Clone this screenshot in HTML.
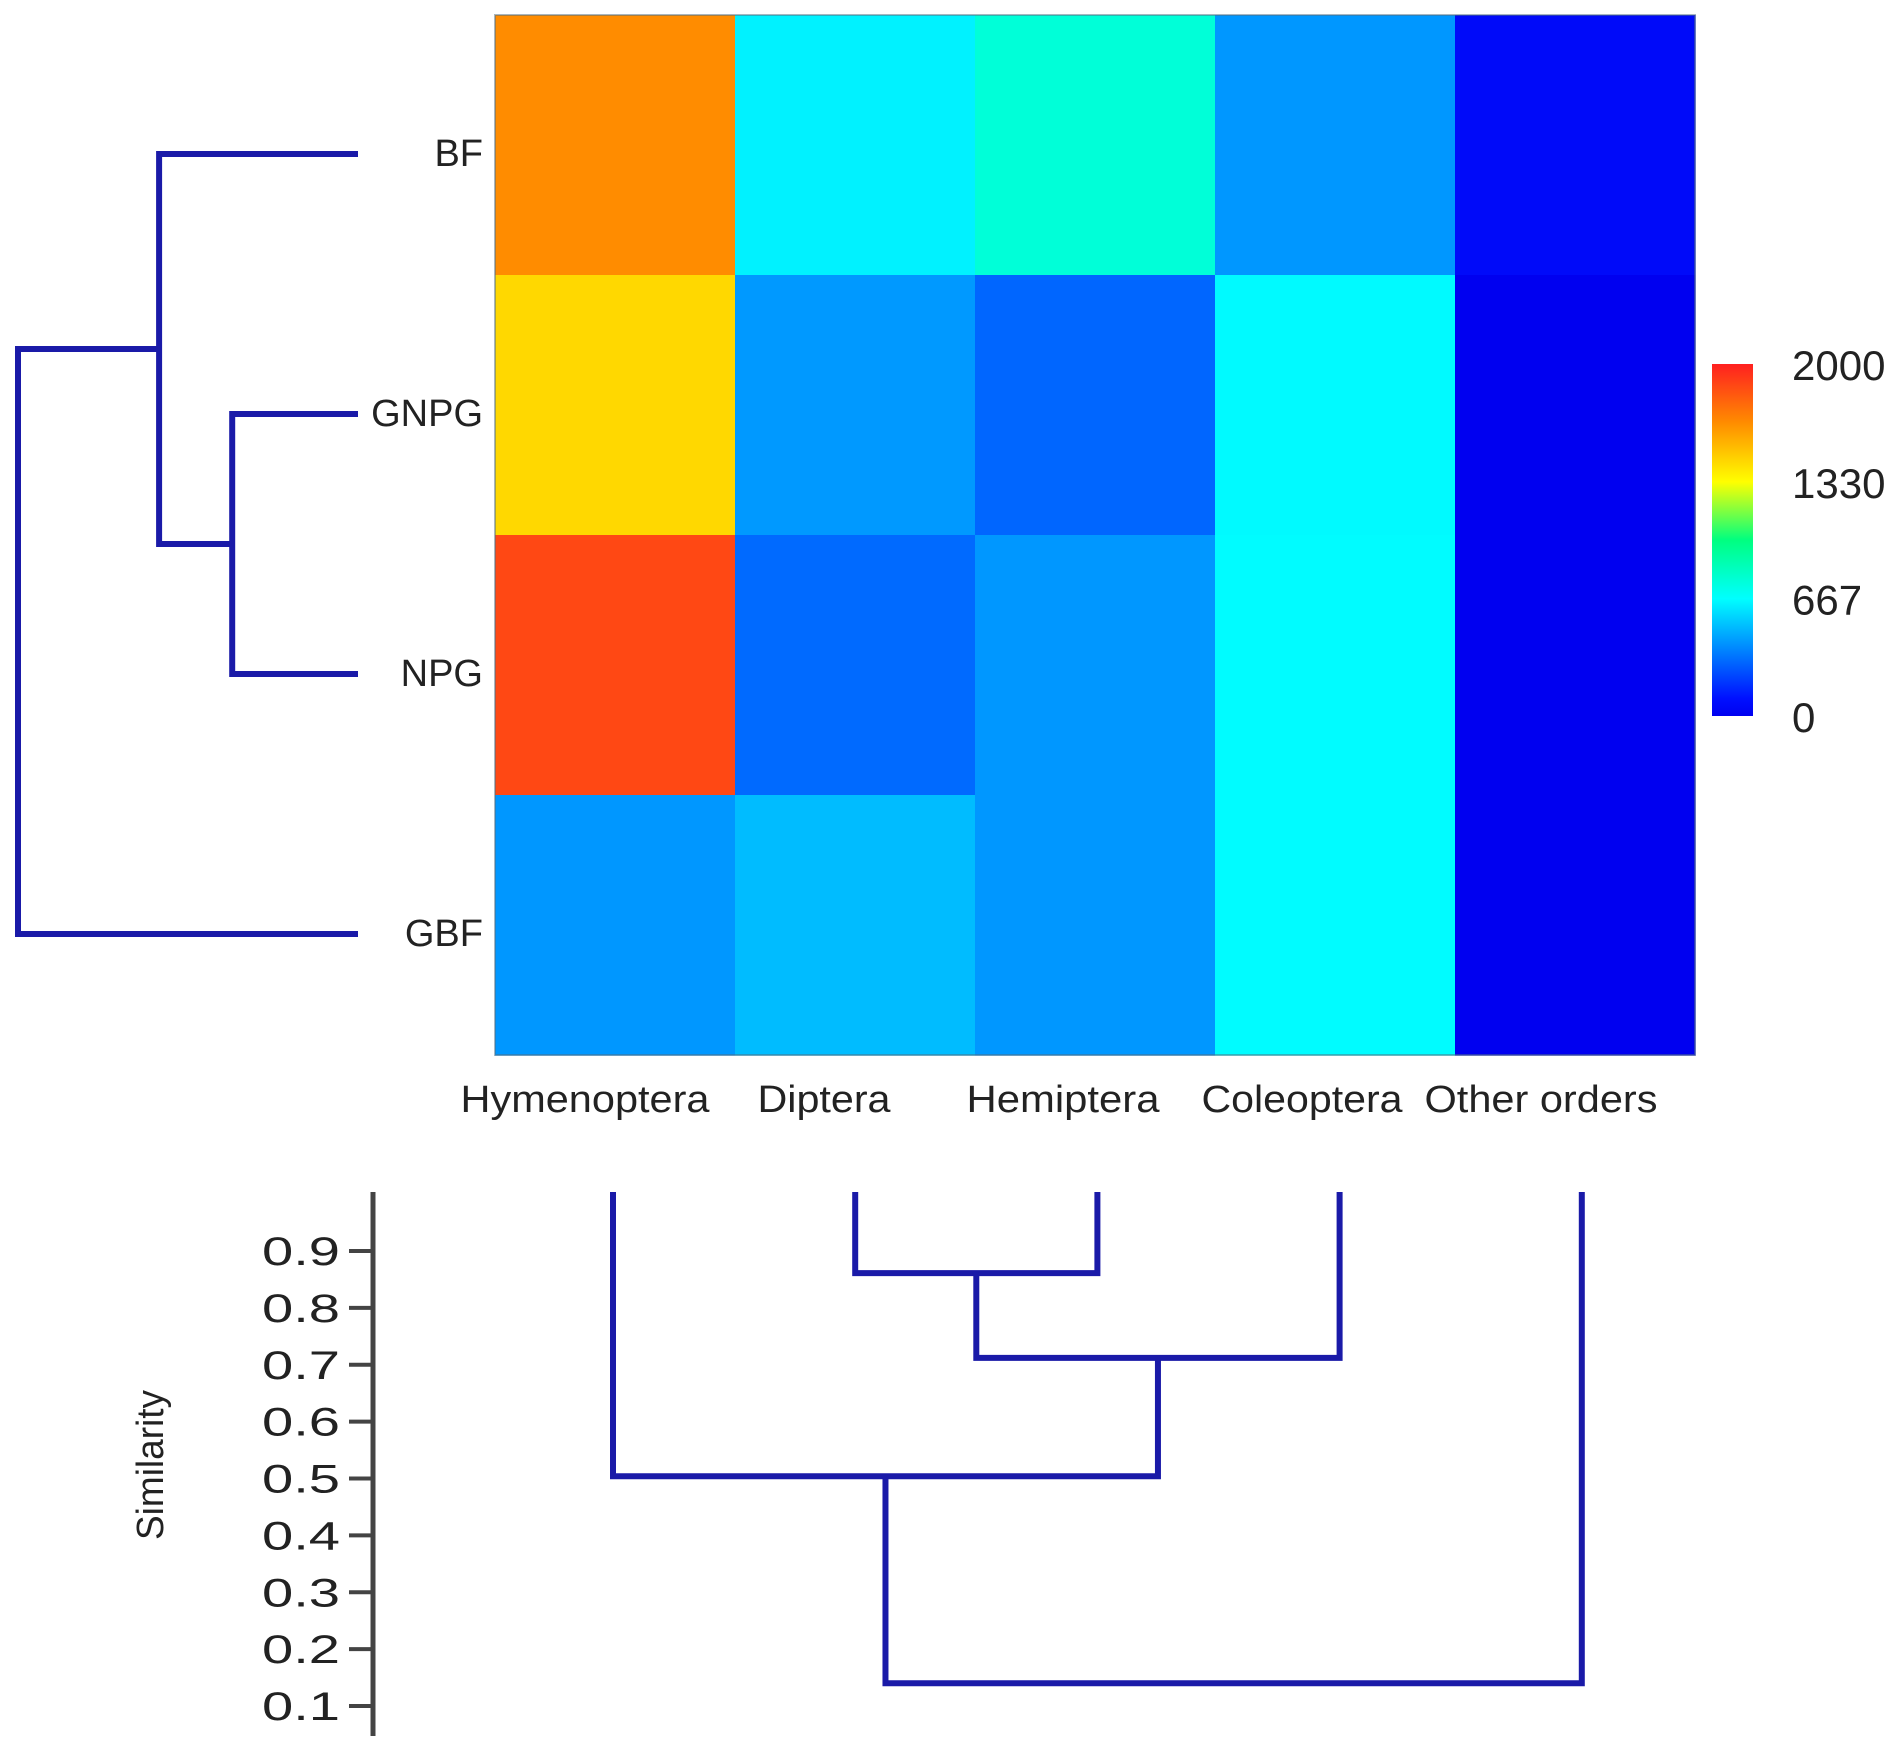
<!DOCTYPE html>
<html><head><meta charset="utf-8"><style>
html,body{margin:0;padding:0;background:#fff;}
svg{display:block;}
text{font-family:"Liberation Sans",sans-serif;fill:#222;}
</style></head><body>
<svg id="chart" width="1901" height="1746" viewBox="0 0 1901 1746"></svg>
<script>
const rowLabels = ["BF","GNPG","NPG","GBF"];
const colLabels = ["Hymenoptera","Diptera","Hemiptera","Coleoptera","Other orders"];
const rowBF   = [1667, 635, 770, 420, 60];
const rowGNPG = [1444, 425, 305, 655, 0];
const rowNPG  = [1877, 313, 420, 660, 0];
const rowGBF  = [420, 509, 420, 660, 0];
const cbTicks = [2000, 1330, 667, 0];
const simTicks = [0.9,0.8,0.7,0.6,0.5,0.4,0.3,0.2,0.1];
// column dendrogram merges: [leftNode, rightNode, similarity]; leaves 0..4
const colMerges = [[1,2,0.861],[5,3,0.712],[0,6,0.504],[7,4,0.14]];
// row dendrogram merges (relative distance 0..1)
const rowMerges = [[1,2,0.37],[0,4,0.585],[5,3,1.0]];
const matrix = [rowBF,rowGNPG,rowNPG,rowGBF];

const NS="http://www.w3.org/2000/svg";
const svg=document.getElementById('chart');
function mk(tag,attrs,parent){const e=document.createElementNS(NS,tag);for(const k in attrs)e.setAttribute(k,attrs[k]);(parent||svg).appendChild(e);return e;}

const stops=[[0,[0,0,240]],[100,[0,16,255]],[667,[0,255,255]],[1000,[0,255,128]],[1330,[255,255,0]],[1667,[255,140,0]],[2000,[255,32,32]]];
function cmap(v){for(let i=1;i<stops.length;i++){if(v<=stops[i][0]){const a=stops[i-1],b=stops[i];const t=(v-a[0])/(b[0]-a[0]);const c=a[1].map((x,j)=>Math.round(x+(b[1][j]-x)*t));return `rgb(${c.join(',')})`;}}return 'rgb(255,32,32)';}

const hx0=495,hy0=15,cw=240,rh=260;
const xCol=i=>hx0+i*cw, yRow=j=>hy0+j*rh;
const gH=mk('g',{});


matrix.forEach((row,j)=>row.forEach((v,i)=>{
  const r=mk('rect',{x:xCol(i),y:yRow(j),width:cw+0.5,height:rh+0.5,fill:cmap(v)},gH);
  
  
}));
mk('rect',{x:hx0,y:hy0,width:cw*5,height:rh*4,fill:'none',stroke:'rgba(80,110,130,0.5)','stroke-width':2});

rowLabels.forEach((l,j)=>{
  const t=mk('text',{x:483,y:yRow(j)+rh/2+21,'text-anchor':'end','font-size':38},svg);
  t.textContent=l;
  
  
});
const labelW=[249,133,193,201,233];
colLabels.forEach((l,i)=>{
  const t=mk('text',{x:xCol(i)+cw/2-30-i,y:1112,'text-anchor':'middle','font-size':38,textLength:labelW[i],lengthAdjust:'spacingAndGlyphs'},svg);
  t.textContent=l;
  
  
});

const defs=mk('defs',{});
const lg=mk('linearGradient',{id:'cb',x1:0,y1:1,x2:0,y2:0},defs);
stops.forEach(s=>mk('stop',{offset:s[0]/2000,'stop-color':cmap(s[0])},lg));
const cbTop=364,cbBot=716,cbV=v=>cbBot-(v/2000)*(cbBot-cbTop);
const cb=mk('rect',{x:1712,y:cbTop,width:41,height:cbBot-cbTop,fill:'url(#cb)'});


cbTicks.forEach(v=>{
  const t=mk('text',{x:1792,y:cbV(v)+16,'font-size':42},svg);
  t.textContent=v;
  
  
});

const leafYs=rowLabels.map((_,j)=>yRow(j)+rh/2+9);
const rxLeaf=358, rxRoot=18;
const rX=d=>rxLeaf-d*(rxLeaf-rxRoot);
const rNodes=leafYs.map(y=>({y:y,x:rxLeaf}));
const gR=mk('g',{stroke:'#1a1aa8','stroke-width':6,fill:'none'});


rowMerges.forEach(m=>{
  const a=rNodes[m[0]],b=rNodes[m[1]],x=rX(m[2]);
  const p=mk('path',{d:`M${a.x},${a.y}H${x}V${b.y}H${b.x}`},gR);
  
  
  rNodes.push({x:x,y:(a.y+b.y)/2});
});

const sY=v=>1251+(0.9-v)*568.8;
const gA=mk('g',{});


mk('line',{x1:373,y1:1192,x2:373,y2:1736,stroke:'#444','stroke-width':5},gA);
simTicks.forEach(v=>{
  mk('line',{x1:349,y1:sY(v),x2:373,y2:sY(v),stroke:'#444','stroke-width':4},gA);
  const t=mk('text',{x:340,y:sY(v)+14,'text-anchor':'end','font-size':40,fill:'#333',textLength:78,lengthAdjust:'spacingAndGlyphs'},gA);
  t.textContent=v.toFixed(1);
  
  
});
const st=mk('text',{x:0,y:0,'text-anchor':'middle','font-size':38,fill:'#444',transform:'translate(163,1465) rotate(-90)',textLength:150,lengthAdjust:'spacingAndGlyphs'});
st.textContent='Similarity';



const leafTop=1192;
const cNodes=colLabels.map((_,i)=>({x:xCol(i)+cw/2-2+i*2.2,y:leafTop}));
const gC=mk('g',{stroke:'#1a1aa8','stroke-width':6,fill:'none'});


colMerges.forEach(m=>{
  const a=cNodes[m[0]],b=cNodes[m[1]],y=sY(m[2]);
  const p=mk('path',{d:`M${a.x},${a.y}V${y}H${b.x}V${b.y}`},gC);
  
  
  cNodes.push({x:(a.x+b.x)/2,y:y});
});
</script>
</body></html>
